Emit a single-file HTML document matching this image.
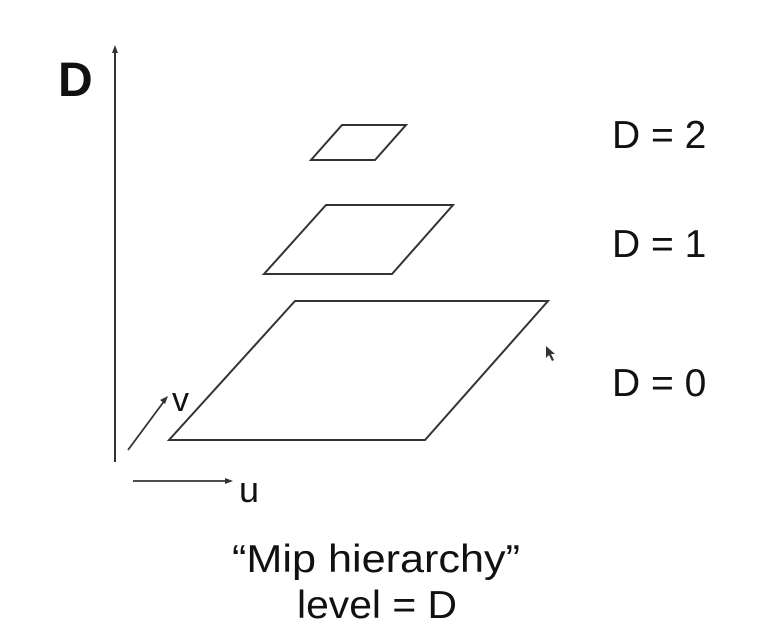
<!DOCTYPE html>
<html><head><meta charset="utf-8"><style>
html,body{margin:0;padding:0;background:#fff;}
svg{display:block;}
text{font-family:"Liberation Sans",sans-serif;fill:#111;}
</style></head><body>
<svg width="768" height="644" viewBox="0 0 768 644">
<g>
<line x1="115" y1="462" x2="115" y2="50" stroke="#333" stroke-width="2"/>
<polygon points="115,45 112,53 118,53" fill="#333"/>
</g>
<text x="58" y="96" font-size="48" font-weight="bold">D</text>
<g>
<line x1="128" y1="450" x2="165" y2="400" stroke="#333" stroke-width="1.8"/>
<polygon points="168,396 160,400 165,404" fill="#333"/>
</g>
<text x="172" y="411" font-size="34">v</text>
<g>
<line x1="133" y1="481" x2="228" y2="481" stroke="#333" stroke-width="1.8"/>
<polygon points="233,481 225,478 225,484" fill="#333"/>
</g>
<text x="239" y="502" font-size="36">u</text>
<polygon points="342,125 406,125 375,160 311,160" fill="none" stroke="#333" stroke-width="2"/>
<polygon points="326,205 453,205 392,274 264,274" fill="none" stroke="#333" stroke-width="2"/>
<polygon points="295,301 548,301 425,440 169,440" fill="none" stroke="#333" stroke-width="2"/>
<polygon points="546,346 546,358 549,355 552,361 554,360 551,354 555,354" fill="#333"/>
<text x="612" y="148" font-size="39">D = 2</text>
<text x="612" y="257" font-size="39">D = 1</text>
<text x="612" y="396" font-size="39">D = 0</text>
<text x="232" y="572" font-size="39" textLength="288" lengthAdjust="spacingAndGlyphs">“Mip hierarchy”</text>
<text x="297" y="618" font-size="39" textLength="160" lengthAdjust="spacingAndGlyphs">level = D</text>
</svg>
</body></html>
